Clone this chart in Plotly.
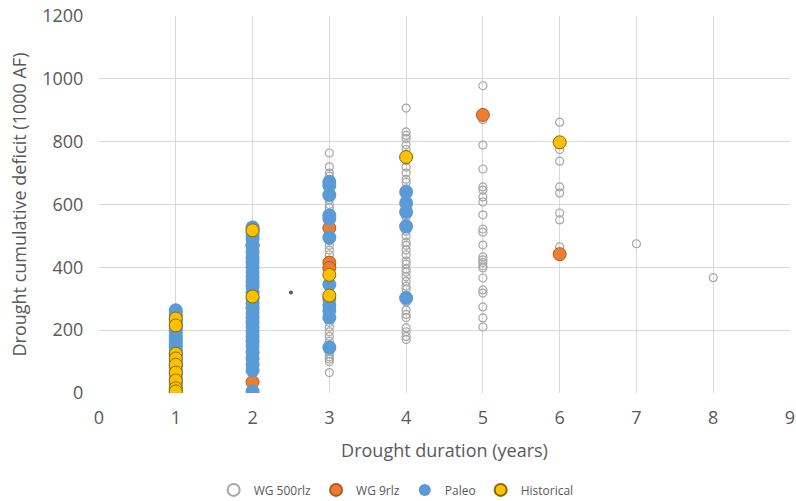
import plotly.graph_objects as go

# ---- data ----
wg500_x = ([3] * 44) + ([4] * 42) + ([5] * 23) + ([6] * 9) + [7, 8]
wg500_y = [65, 100, 108, 115, 125, 135, 150, 165, 180, 195, 210, 225, 245, 260, 275,
           290, 305, 320, 335, 350, 360, 370, 385, 400, 420, 440, 455, 470, 485, 500,
           515, 535, 545, 570, 590, 600, 615, 640, 650, 680, 690, 700, 720, 764,
           170, 180, 195, 207, 240, 250, 264, 290, 310, 330, 340, 355, 370, 385, 395,
           410, 420, 440, 455, 470, 480, 500, 515, 540, 560, 580, 600, 615, 630, 650,
           670, 680, 700, 719, 740, 760, 775, 790, 810, 820, 831, 907,
           210, 239, 274, 318, 328, 366, 398, 405, 415, 424, 433, 471, 512, 522, 567,
           608, 624, 646, 656, 713, 789, 870, 978,
           465, 551, 573, 637, 656, 738, 775, 790, 862,
           475, 367]

wg9_x = [2, 2, 3, 3, 3, 5, 6]
wg9_y = [470, 35, 525, 415, 398, 885, 442]

paleo_x = ([1] * 29) + ([2] * 31) + ([3] * 12) + ([4] * 5)
paleo_y = [3, 10, 20, 28, 35, 45, 55, 62, 70, 80, 88, 95, 105, 115, 125, 135, 145,
           155, 165, 175, 185, 195, 205, 215, 225, 235, 245, 255, 263,
           5, 72, 90, 110, 130, 150, 165, 180, 195, 210, 225, 240, 255, 270, 285,
           300, 320, 340, 355, 370, 385, 400, 415, 430, 450, 470, 490, 500, 510, 520, 527,
           145, 240, 262, 280, 300, 345, 495, 555, 565, 630, 660, 672,
           302, 530, 576, 605, 640]

hist_x = [1, 1, 1, 1, 1, 1, 1, 1, 1, 2, 2, 3, 3, 4, 6]
hist_y = [237, 215, 125, 110, 90, 65, 40, 15, 5, 518, 307, 376, 310, 751, 798]

stray_x = [2.5]
stray_y = [320]

x_ticks = [0, 1, 2, 3, 4, 5, 6, 7, 8, 9]
y_ticks = [0, 200, 400, 600, 800, 1000, 1200]

FONT = "Open Sans"
TXT = "#595959"
CLEAR = "rgba(0,0,0,0)"

fig = go.Figure()
fig.add_trace(go.Scatter(x=wg500_x, y=wg500_y, mode="markers", name="WG 500rlz",
                         marker=dict(size=8, color="rgba(255,255,255,0)",
                                     line=dict(color="#a6a6a6", width=1.2))))
fig.add_trace(go.Scatter(x=stray_x, y=stray_y, mode="markers", showlegend=False,
                         marker=dict(size=4, color="#595959")))
fig.add_trace(go.Scatter(x=wg9_x, y=wg9_y, mode="markers", name="WG 9rlz",
                         marker=dict(size=13, color="#ED7D31",
                                     line=dict(color="#ae5a21", width=1))))
fig.add_trace(go.Scatter(x=paleo_x, y=paleo_y, mode="markers", name="Paleo",
                         marker=dict(size=14, color="#5B9BD5",
                                     line=dict(color="#5B9BD5", width=0))))
fig.add_trace(go.Scatter(x=hist_x, y=hist_y, mode="markers", name="Historical",
                         marker=dict(size=13, color="#FFC000",
                                     line=dict(color="#8a6a00", width=1))))

fig.update_layout(
    width=796, height=501,
    margin=dict(l=99, r=6, t=16, b=108, autoexpand=False),
    paper_bgcolor="white", plot_bgcolor="white",
    font=dict(family=FONT, color=TXT, size=16),
    showlegend=True,
    legend=dict(orientation="h", x=0.43, xanchor="center", y=-0.257, yanchor="middle",
                font=dict(size=12, color=TXT), itemsizing="constant", itemwidth=30,
                traceorder="normal"),
    xaxis=dict(range=[0, 9], tickvals=x_ticks, ticktext=[str(v) for v in x_ticks],
               showgrid=True, gridcolor="#d9d9d9", gridwidth=1, zeroline=False,
               showline=False, ticks="outside", ticklen=8, tickcolor=CLEAR,
               automargin=False, ticklabeloverflow="allow",
               title=dict(text="Drought duration (years)", font=dict(size=18, color=TXT),
                          standoff=16),
               tickfont=dict(size=18, color=TXT)),
    yaxis=dict(range=[0, 1200], tickvals=y_ticks, ticktext=[str(v) for v in y_ticks],
               showgrid=True, gridcolor="#d9d9d9", gridwidth=1, zeroline=False,
               showline=False, ticks="outside", ticklen=11, tickcolor=CLEAR,
               automargin=False, ticklabeloverflow="allow",
               title=dict(text="Drought cumulative deficit (1000 AF)",
                          font=dict(size=18, color=TXT), standoff=10),
               tickfont=dict(size=18, color=TXT)),
)

# remove the browser's default 8px body margin so the figure fills the window
fig.write_html("out.html",
               config={"displayModeBar": False},
               post_script="document.body.style.margin='0';document.body.style.overflow='hidden';")
